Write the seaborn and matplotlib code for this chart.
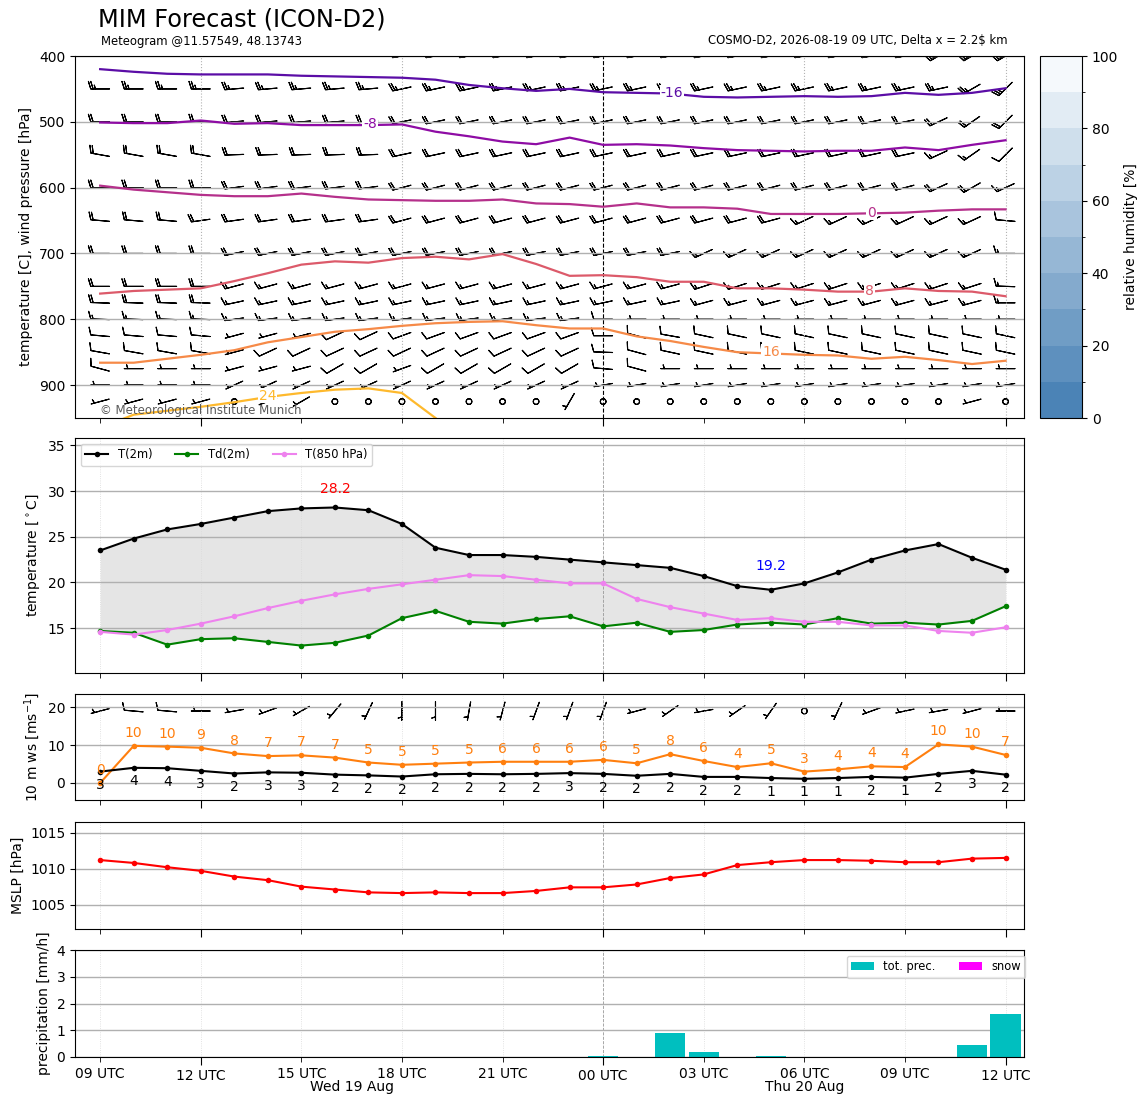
import numpy as np
import pandas as pd
import matplotlib
matplotlib.use("Agg")
import matplotlib.pyplot as plt
import matplotlib.colors as mcolors
import matplotlib.transforms as mtransforms
import seaborn as sns

# hourly forecast steps, 2026-08-19 09 UTC .. 2026-08-20 12 UTC
times = pd.date_range("2026-08-19 09:00", periods=28, freq="h")
hours = np.arange(len(times))

# 2 m temperature / dew point, 850 hPa temperature [C]
t2m = [23.5, 24.8, 25.8, 26.4, 27.1, 27.8, 28.1, 28.2, 27.9, 26.4, 23.8, 23.0,
       23.0, 22.8, 22.5, 22.2, 21.9, 21.6, 20.7, 19.6, 19.2, 19.9, 21.1, 22.5,
       23.5, 24.2, 22.7, 21.4]
td2m = [14.7, 14.5, 13.2, 13.8, 13.9, 13.5, 13.1, 13.4, 14.2, 16.1, 16.9, 15.7,
        15.5, 16.0, 16.3, 15.2, 15.6, 14.6, 14.8, 15.4, 15.6, 15.4, 16.1, 15.5,
        15.6, 15.4, 15.8, 17.4]
t850 = [14.6, 14.3, 14.8, 15.5, 16.3, 17.2, 18.0, 18.7, 19.3, 19.8, 20.3, 20.8,
        20.7, 20.3, 19.9, 19.9, 18.2, 17.3, 16.6, 15.9, 16.1, 15.7, 15.7, 15.3,
        15.3, 14.7, 14.5, 15.1]

# 10 m wind speed and gusts [m/s]
ws10 = [3.0, 4.0, 3.9, 3.2, 2.5, 2.8, 2.7, 2.2, 2.0, 1.7, 2.3, 2.4, 2.3, 2.4,
        2.6, 2.4, 1.9, 2.4, 1.6, 1.6, 1.3, 1.1, 1.3, 1.6, 1.4, 2.4, 3.2, 2.2]
gust10 = [0.0, 9.8, 9.6, 9.3, 7.8, 7.1, 7.3, 6.7, 5.4, 4.8, 5.1, 5.4, 5.6, 5.6,
          5.6, 6.1, 5.2, 7.6, 5.8, 4.2, 5.2, 3.0, 3.6, 4.4, 4.2, 10.2, 9.6, 7.4]
# 10 m wind barbs (direction from [deg], barb units)
dir10 = [255, 275, 275, 270, 260, 250, 240, 220, 205, 180, 180, 190, 195, 200,
         200, 200, 255, 235, 260, 235, 215, 270, 205, 250, 258, 260, 255, 270]
spd10 = [5, 10, 10, 5, 5, 5, 5, 5, 5, 5, 5, 5, 5, 5,
         5, 5, 5, 5, 5, 5, 5, 1, 5, 5, 5, 5, 5, 5]

# mean sea level pressure [hPa]
mslp = [1011.2, 1010.8, 1010.2, 1009.7, 1008.9, 1008.4, 1007.5, 1007.1, 1006.7,
        1006.6, 1006.7, 1006.6, 1006.6, 1006.9, 1007.4, 1007.4, 1007.8, 1008.7,
        1009.2, 1010.5, 1010.9, 1011.2, 1011.2, 1011.1, 1010.9, 1010.9, 1011.4,
        1011.5]

# precipitation [mm/h]
tot_prec = [0.0] * 15 + [0.05, 0.0, 0.91, 0.2, 0.0, 0.05] + [0.0] * 5 + [0.46, 1.62]
snow = [0.0] * 28

# isotherms: pressure [hPa] of each temperature level at every step
iso_levels = [-16, -8, 0, 8, 16, 24]
iso_colors = ["#5b0da6", "#8e0ca4", "#b5308b", "#dc5a6a", "#f68a48", "#feb92d"]
iso_press = {
    -16: [420, 424, 427, 428, 428, 428, 430, 431, 432, 433, 436, 444, 449, 453,
          450, 455, 456, 457, 462, 463, 462, 461, 462, 461, 456, 459, 456, 449],
    -8: [501, 502, 502, 498, 503, 502, 505, 505, 505, 504, 515, 522, 530, 534,
         524, 535, 534, 536, 540, 543, 544, 545, 544, 544, 539, 543, 535, 528],
    0: [597, 603, 607, 611, 613, 613, 609, 614, 618, 619, 620, 620, 618, 624,
        625, 629, 624, 630, 630, 632, 640, 640, 640, 639, 638, 635, 633, 633],
    8: [761, 757, 755, 753, 742, 730, 717, 712, 714, 707, 705, 709, 701, 716,
        734, 733, 736, 743, 743, 753, 753, 755, 758, 758, 753, 757, 758, 765],
    16: [866, 866, 860, 854, 847, 835, 827, 819, 815, 810, 806, 804, 803, 809,
         814, 814, 826, 833, 842, 850, 852, 854, 855, 860, 857, 862, 868, 863],
    24: [965, 945, 939, 933, 926, 918, 912, 907, 905, 912, 950] + [np.nan] * 17,
}
# label position (step, pressure) of each isotherm
iso_label_pos = {-16: (17.05, 456), -8: (8.05, 504), 0: (23.0, 638),
                 8: (22.95, 757), 16: (20.0, 849), 24: (5.0, 916)}

# upper air wind barbs (direction from [deg], speed in barb units)
wind_levels = [400, 450, 500, 550, 600, 650, 700, 750, 775, 800, 825, 850, 875, 900, 925]
barb_dir = {
    400: [270] * 9 + [260] * 16 + [240] * 3,
    450: [270] * 4 + [265] * 5 + [258] * 17 + [240, 225],
    500: [270] * 4 + [265] * 5 + [258] * 16 + [245, 235, 225],
    550: [280] * 4 + [268] * 5 + [258] * 16 + [245, 235, 225],
    600: [270] * 4 + [262] * 5 + [255] * 16 + [245, 240, 245],
    650: [275] * 3 + [262] * 6 + [255] * 12 + [245] * 6 + [275],
    700: [270] * 4 + [258] * 14 + [245] * 9 + [270],
    750: [270] * 4 + [255] * 14 + [252] * 9 + [272],
    775: [272] * 4 + [258] * 14 + [255] * 9 + [270],
    800: [272] * 4 + [262] * 11 + [270] * 13,
    825: [275] * 4 + [255] * 3 + [245] * 2 + [250] * 6 + [270, 285, 280] + [282] * 10,
    850: [280] * 4 + [255] + [245] * 10 + [272, 285, 282] + [282] * 10,
    875: [285] + [270] * 3 + [255] * 3 + [240] * 2 + [250] + [240] * 5 + [275, 285] + [270] * 11,
    900: [270] * 4 + [245] * 11 + [260] * 13,
    925: [255] * 4 + [270, 250, 240] + [270] * 7 + [210] + [270] * 11 + [255, 270],
}
barb_spd = {
    400: [25] * 28,
    450: [25] * 28,
    500: [20] * 28,
    550: [20] * 25 + [15, 15, 10],
    600: [20] * 27 + [15],
    650: [20] * 21 + [15] * 6 + [10],
    700: [20] * 18 + [15] * 10,
    750: [20] * 4 + [15] * 24,
    775: [20] * 4 + [15] * 24,
    800: [15] * 15 + [10] + [5] * 12,
    825: [10] * 4 + [5] * 3 + [10] * 21,
    850: [10] * 4 + [5] + [10] * 23,
    875: [10] + [5] * 6 + [10] * 2 + [5] + [10] * 7 + [5] * 11,
    900: [5] * 16 + [3] + [5] * 11,
    925: [5] * 4 + [1, 5, 5] + [1] * 7 + [5] + [1] * 11 + [5, 1],
}


def wind_components(direction, speed):
    rad = np.deg2rad(np.asarray(direction, dtype=float))
    spd = np.asarray(speed, dtype=float)
    return -spd * np.sin(rad), -spd * np.cos(rad)


def style_time_axis(ax, show_labels=False):
    """hourly time axis, major ticks at 00/12 UTC, minor every 3 h"""
    major = [h for h in hours if times[h].hour % 12 == 0]
    minor = [h for h in hours if times[h].hour % 3 == 0 and times[h].hour % 12 != 0]
    ax.set_xticks(major)
    ax.set_xticks(minor, minor=True)
    if show_labels:
        ax.set_xticklabels([f"{times[h]:%H} UTC" for h in major])
        ax.set_xticklabels([f"{times[h]:%H} UTC" for h in minor], minor=True)
    else:
        ax.set_xticklabels([])
        ax.set_xticklabels([], minor=True)
    ax.tick_params(axis="x", which="major", length=5.5)
    ax.tick_params(axis="x", which="minor", length=3.5, labelsize=10)
    ax.set_xlim(-0.75, 27.55)


def vertical_guides(ax, step, top=False):
    for h in hours:
        if times[h].hour == 0:
            ax.axvline(h, color="k" if top else "0.6", ls="--",
                       lw=0.8 if top else 0.6, zorder=1.2)
        elif times[h].hour % step == 0 and (not top or times[h].hour % 6 == 0):
            ax.axvline(h, color="0.7" if top else "0.85", ls=":",
                       lw=0.8 if top else 0.6, zorder=1.2)


W, H = 1148, 1105
fig = plt.figure(figsize=(W / 100, H / 100), dpi=100)


def rect(x0, y0, x1, y1):
    return [x0 / W, 1 - y1 / H, (x1 - x0) / W, (y1 - y0) / H]


ax0 = fig.add_axes(rect(75, 56, 1024, 418))
ax1 = fig.add_axes(rect(75, 438, 1024, 673))
ax2 = fig.add_axes(rect(75, 694, 1024, 800))
ax3 = fig.add_axes(rect(75, 822, 1024, 929))
ax4 = fig.add_axes(rect(75, 950, 1024, 1057))
cax = fig.add_axes(rect(1040, 56, 1082, 418))

BARB_LEN = 5.2

# ---- upper air: isotherms and wind barbs ----
for lev, col in zip(iso_levels, iso_colors):
    ax0.plot(hours, iso_press[lev], color=col, lw=1.6, zorder=2)
    tx, ty = iso_label_pos[lev]
    ax0.text(tx, ty, f"{lev}", color=col, fontsize=10, ha="center", va="center",
             zorder=2.5, bbox=dict(facecolor="white", edgecolor="none", pad=0.6))

for lev in wind_levels:
    u, v = wind_components(barb_dir[lev], barb_spd[lev])
    ax0.barbs(hours, np.full(len(hours), lev), u, v, length=BARB_LEN, pivot="middle",
              linewidth=0.8, color="k", zorder=1)

ax0.set_ylim(950, 400)
ax0.set_yticks([400, 500, 600, 700, 800, 900])
ax0.grid(axis="y", color="#b0b0b0", lw=1)
vertical_guides(ax0, 6, top=True)
style_time_axis(ax0)
ax0.set_ylabel("temperature [C], wind pressure [hPa]")
ax0.text(0.026, 0.022, "\u00a9 Meteorological Institute Munich", transform=ax0.transAxes,
         fontsize=8.5, color="0.35", va="center")

rh_cmap = mcolors.LinearSegmentedColormap.from_list("rh", ["#4b83b6", "#f5f9fc"])
rh_norm = mcolors.BoundaryNorm(np.arange(0, 101, 10), rh_cmap.N)
cb = fig.colorbar(plt.cm.ScalarMappable(norm=rh_norm, cmap=rh_cmap), cax=cax,
                  ticks=np.arange(0, 101, 20))
cb.set_label("relative humidity [%]")

# ---- 2 m temperature ----
ax1.fill_between(hours, t2m, td2m, color="0.5", alpha=0.2, lw=0)
sns.lineplot(x=hours, y=t2m, ax=ax1, color="k", marker="o", markersize=4,
             markeredgewidth=0, lw=1.5, label="T(2m)")
sns.lineplot(x=hours, y=td2m, ax=ax1, color="green", marker="o", markersize=4,
             markeredgewidth=0, lw=1.5, label="Td(2m)")
sns.lineplot(x=hours, y=t850, ax=ax1, color="violet", marker="o", markersize=4,
             markeredgewidth=0, lw=1.5, label="T(850 hPa)")
imax, imin = int(np.argmax(t2m)), int(np.argmin(t2m))
ax1.text(imax, t2m[imax] + 2.0, f"{t2m[imax]:.1f}", color="red", ha="center", va="center")
ax1.text(imin, t2m[imin] + 2.6, f"{t2m[imin]:.1f}", color="blue", ha="center", va="center")
ax1.set_ylim(10.1, 35.8)
ax1.set_yticks([15, 20, 25, 30, 35])
ax1.grid(axis="y", color="#b0b0b0", lw=1)
vertical_guides(ax1, 3)
style_time_axis(ax1)
ax1.set_ylabel("temperature [$^\\circ$C]")
ax1.legend(loc="upper left", ncol=3, fontsize=8.3)

# ---- 10 m wind ----
sns.lineplot(x=hours, y=gust10, ax=ax2, color="tab:orange", marker="o", markersize=4,
             markeredgewidth=0, lw=1.5, legend=False)
sns.lineplot(x=hours, y=ws10, ax=ax2, color="k", marker="o", markersize=4,
             markeredgewidth=0, lw=1.5, legend=False)
for h in hours:
    ax2.text(h, gust10[h] + 3.4, f"{gust10[h]:.0f}", color="tab:orange",
             ha="center", va="center")
    ax2.text(h, ws10[h] - 3.6, f"{ws10[h]:.0f}", color="k", ha="center", va="center")
u10, v10 = wind_components(dir10, spd10)
ax2.barbs(hours, np.full(len(hours), 19.0), u10, v10, length=BARB_LEN, pivot="middle",
          linewidth=0.8, color="k", zorder=1)
ax2.set_ylim(-4.5, 23.5)
ax2.set_yticks([0, 10, 20])
ax2.grid(axis="y", color="#b0b0b0", lw=1)
vertical_guides(ax2, 3)
style_time_axis(ax2)
ax2.set_ylabel("10 m ws [ms$^{-1}$]")

# ---- mean sea level pressure ----
sns.lineplot(x=hours, y=mslp, ax=ax3, color="red", marker="o", markersize=4,
             markeredgewidth=0, lw=1.5, legend=False)
ax3.set_ylim(min(mslp) - 5, max(mslp) + 5)
ax3.set_yticks([1005, 1010, 1015])
ax3.grid(axis="y", color="#b0b0b0", lw=1)
vertical_guides(ax3, 3)
style_time_axis(ax3)
ax3.set_ylabel("MSLP [hPa]")

# ---- precipitation ----
ax4.bar(hours, tot_prec, width=0.9, color="c", label="tot. prec.", zorder=2)
ax4.bar(hours, snow, width=0.9, color="magenta", label="snow", zorder=2)
ax4.set_ylim(0, 4)
ax4.set_yticks([0, 1, 2, 3, 4])
ax4.grid(axis="y", color="#b0b0b0", lw=1)
vertical_guides(ax4, 3)
style_time_axis(ax4, show_labels=True)
ax4.set_ylabel("precipitation [mm/h]")
ax4.legend(loc="upper right", bbox_to_anchor=(1.0075, 1.0), ncol=2, fontsize=8.3)

# day labels under the time axis, centred on the part of each day shown
day_tr = mtransforms.blended_transform_factory(ax4.transData, ax4.transAxes)
for day, grp in pd.Series(hours, index=times).groupby(times.date):
    start = grp.iloc[0]
    end = min(grp.iloc[-1] + 1, hours[-1])
    ax4.text((start + end) / 2, -0.28, f"{pd.Timestamp(day):%a %d %b}", transform=day_tr,
             ha="center", va="center", fontsize=10)

# ---- titles ----
fig.text(98 / W, 1 - 20 / H, "MIM Forecast (ICON-D2)", fontsize=17.3, va="center")
fig.text(101 / W, 1 - 41 / H, "Meteogram @11.57549, 48.13743", fontsize=8.4, va="center")
fig.text(1008 / W, 1 - 41 / H, "COSMO-D2, 2026-08-19 09 UTC, Delta x = 2.2$ km",
         fontsize=8.4, va="center", ha="right")

fig.savefig("out.png", dpi=100)
